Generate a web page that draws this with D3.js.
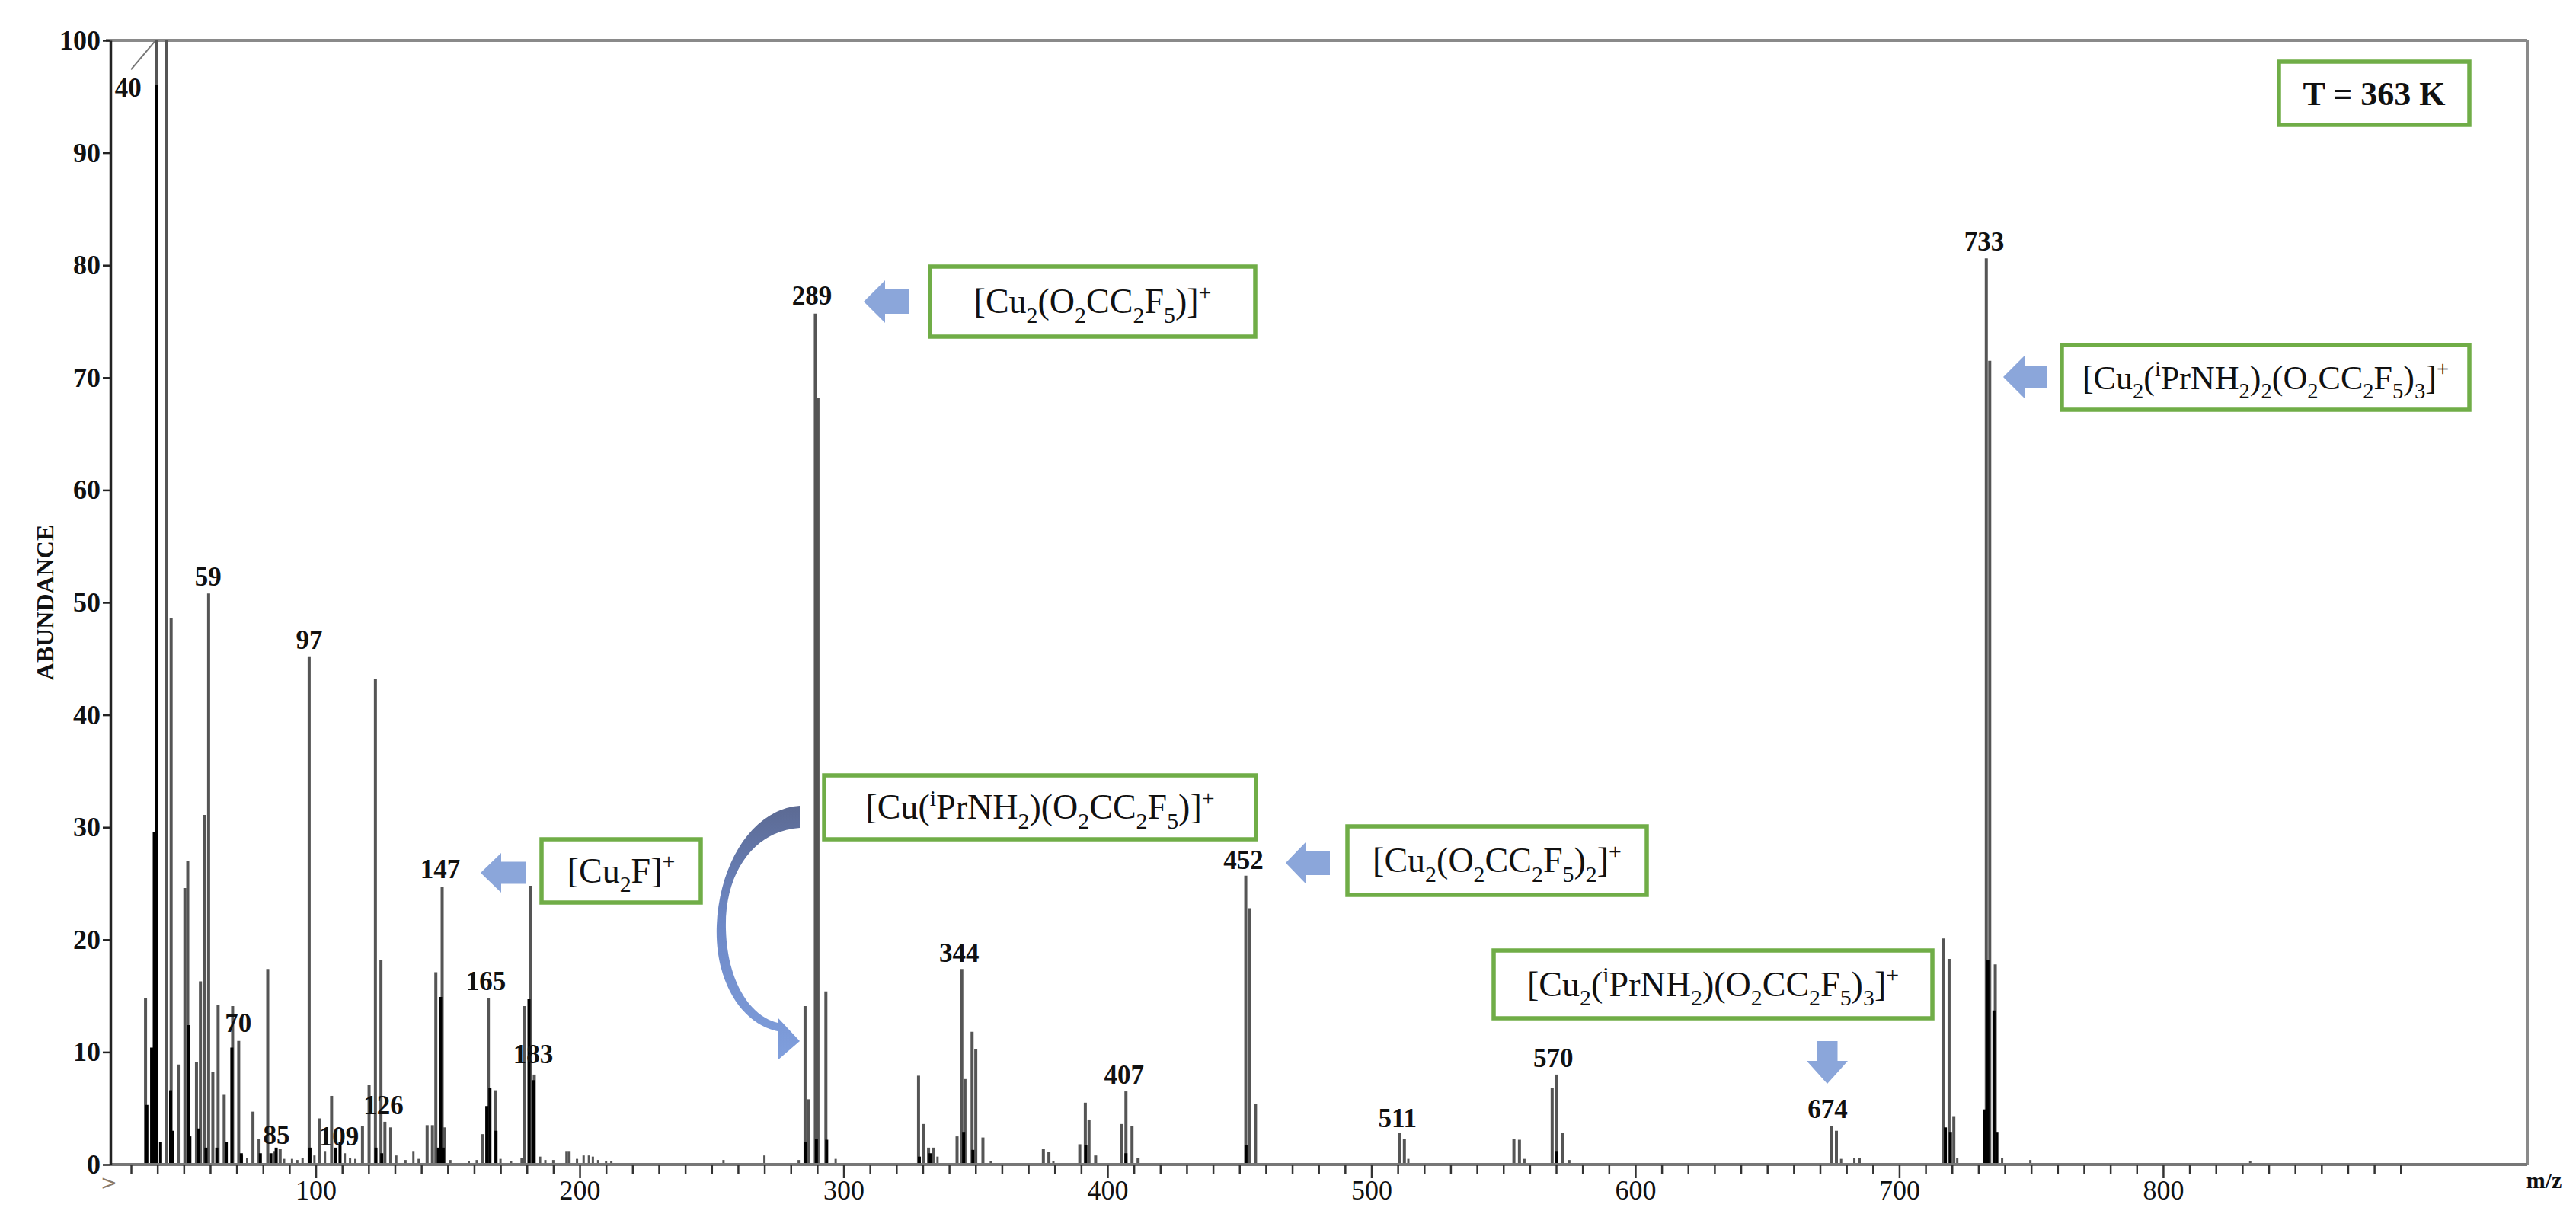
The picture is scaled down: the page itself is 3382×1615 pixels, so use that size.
<!DOCTYPE html>
<html><head><meta charset="utf-8">
<script src="https://cdn.jsdelivr.net/npm/d3@7"></script>
<style>body{margin:0;background:#fff} svg{display:block}</style>
</head><body>
<svg id="c" width="3382" height="1615"></svg>
<script>
// ---------------- DATA ----------------
// main peaks (m/z, abundance %) - grey lines
const peakMz = [35.5,39.6,43.4,45.2,47.9,50.4,51.5,54.8,56.3,57.9,59.4,61,63,65.3,68.5,70.8,76.2,78.5,81.8,84.5,86.5,97.5,101.5,106,117.7,120.2,122.6,124.7,126.2,128.4,142.2,144.2,145.5,147.9,148.9,163.2,165.4,168,179,181.5,182.8,196,285.4,286.8,289.3,290.3,293.3,328.4,330.2,332.2,334,343,344.8,346,348.7,350.1,352.8,375.7,377.8,389.5,391.6,393,395.5,405.4,407,409.3,411.6,452.4,453.9,456.1,510.7,512.5,554,556.1,568.5,570,572.5,674.2,676.2,716.9,718.9,720.7,733,734.3,736.4];
const peakAb = [14.8,100,100,48.6,8.9,24.6,27,9.1,16.3,31.1,50.8,8.2,14.2,6.2,14.1,11,4.7,2.3,17.4,1.2,1.4,45.2,4.1,6.1,3.4,7.1,43.2,18.2,3.8,3.3,3.5,3.5,17.1,24.7,3.3,2.7,14.8,6.6,14.1,24.8,8,1.2,14.1,5.8,75.7,68.2,15.4,7.9,3.6,1.5,1.5,2.5,17.4,7.6,11.8,10.3,2.4,1.4,1.1,1.8,5.5,4,0.8,3.6,6.5,3.4,0.6,25.7,22.8,5.4,2.8,2.3,2.3,2.2,6.8,8,2.8,3.4,3,20.1,18.3,4.3,80.6,71.5,17.8];
// darker (overlapping) peak cores
const coreMz = [36,37.8,38.8,39.6,41.2,45,45.7,51.7,52.3,55.5,58.4,62.5,66.1,68.2,71.8,79,83,85,97.8,107.4,109.2,122.8,125,146.5,147.3,148.3,164.8,166,168.3,180.8,182.4,285.7,289.7,293.6,328.7,332.8,345.5,349,391.8,407,452.5,570,717.5,719.4,732.2,733.6,735.9,737];
const coreAb = [5.3,10.4,29.6,96,2,6.6,3,12.4,2.5,3.2,1.5,1.5,2,10.4,1,1,1,1.5,1.5,1.5,2,1.5,1,1.5,14.9,1.5,5.2,6.8,3,14.7,7.5,2,2.3,2.2,0.7,1,2.9,1.3,1.7,1,1.7,1.2,3.3,2.9,4.9,18.2,13.7,2.9];
// small baseline peaks
const noiseMz = [72,74,88,91,93,95,99.5,103.5,111,113,115,130.5,134,137,139,151,158,161,170,174,178,185,187,190,195,199,201.5,203.5,205,207,210,212,254.5,270,283,297,335.6,355.8,379.5,514,558,575,678,683,685,722,739,749.7,833];
const noiseAb = [0.8,0.6,0.5,0.5,0.4,0.6,0.8,1.2,1,0.6,0.5,0.8,0.4,1.2,0.5,0.4,0.3,0.4,0.5,0.3,0.6,0.7,0.4,0.4,1.2,0.5,0.8,0.8,0.7,0.4,0.3,0.3,0.4,0.8,0.4,0.5,0.7,0.3,0.3,0.5,0.5,0.4,0.5,0.6,0.6,0.6,0.6,0.4,0.3];
// peak labels: text, m/z position, abundance position (baseline)
const labelText = ["40","59","97","70","85","109","126","147","165","183","289","344","407","452","511","570","674","733"];
const labelMz   = [28.9,59.2,97.5,70.6,85.1,108.8,125.7,147.2,164.5,182.4,288,343.8,406.3,451.5,509.9,568.9,672.9,732.2];
const labelAb   = [95,51.5,45.9,11.8,1.8,1.7,4.5,25.5,15.5,9,76.5,18,7.2,26.3,3.3,8.7,4.1,81.3];
// axes
const xTickValues = d3.range(30, 900, 10);
const yTickValues = d3.range(0, 101, 10);
const xDomain = [22.2, 940];
const yDomain = [0, 100];
// annotation formulas ( _x = subscript, ^x = superscript )
const boxTexts = ["T = 363 K","[Cu_2(O_2CC_2F_5)]^+","[Cu_2F]^+","[Cu(^iPrNH_2)(O_2CC_2F_5)]^+","[Cu_2(O_2CC_2F_5)_2]^+","[Cu_2(^iPrNH_2)(O_2CC_2F_5)_3]^+","[Cu_2(^iPrNH_2)_2(O_2CC_2F_5)_3]^+"];

// ---------------- LAYOUT ----------------
const svg = d3.select("#c");
const L = 145, R = 3325, T = 53, B = 1529;
const x = d3.scaleLinear().domain(xDomain).range([L, R]);
const y = d3.scaleLinear().domain(yDomain).range([B, T]);
const serif = "'Liberation Serif','Times New Roman',serif";
const frameR = 3318;

// frame (top & right)
svg.append("line").attr("x1", L-6).attr("x2", frameR).attr("y1", T).attr("y2", T)
  .attr("stroke", "#8a8a8a").attr("stroke-width", 4);
svg.append("line").attr("x1", frameR).attr("x2", frameR).attr("y1", T).attr("y2", B)
  .attr("stroke", "#8a8a8a").attr("stroke-width", 4);

// peaks
const gP = svg.append("g");
gP.selectAll("line.n").data(noiseMz.map((m,i)=>[m,noiseAb[i]])).join("line")
  .attr("x1", d=>x(d[0])).attr("x2", d=>x(d[0])).attr("y1", y(0)).attr("y2", d=>y(d[1]))
  .attr("stroke", "#555").attr("stroke-width", 3);
gP.selectAll("line.p").data(peakMz.map((m,i)=>[m,peakAb[i]])).join("line")
  .attr("x1", d=>x(d[0])).attr("x2", d=>x(d[0])).attr("y1", y(0)).attr("y2", d=>y(d[1]))
  .attr("stroke", "#555").attr("stroke-width", 4);
const gC = svg.append("g");
gC.selectAll("line").data(coreMz.map((m,i)=>[m,coreAb[i]])).join("line")
  .attr("x1", d=>x(d[0])).attr("x2", d=>x(d[0])).attr("y1", y(0)).attr("y2", d=>y(d[1]))
  .attr("stroke", "#000").attr("stroke-width", 4);

// x axis
const gx = svg.append("g").attr("transform", `translate(0,${B})`)
  .call(d3.axisBottom(x).tickValues(xTickValues).tickSize(12).tickSizeOuter(0)
    .tickFormat(d => d % 100 === 0 ? d : ""));
gx.select(".domain").attr("d", `M${L},0H${frameR}`).attr("stroke", "#777").attr("stroke-width", 4);
gx.selectAll(".tick line").attr("stroke", "#333").attr("stroke-width", 2.5)
  .attr("y2", d => d % 100 === 0 ? 18 : 12);
gx.selectAll(".tick text").attr("font-family", serif).attr("font-size", 36)
  .attr("fill", "#111").attr("dy", "0.71em").attr("y", 20);

// y axis
const gy = svg.append("g").attr("transform", `translate(${L},0)`)
  .call(d3.axisLeft(y).tickValues(yTickValues).tickSize(10).tickSizeOuter(0));
gy.select(".domain").attr("stroke", "#222").attr("stroke-width", 3.5);
gy.selectAll(".tick line").attr("stroke", "#222").attr("stroke-width", 2.5);
gy.selectAll(".tick text").attr("font-family", serif).attr("font-size", 36)
  .attr("font-weight", "bold").attr("fill", "#111").attr("x", -13);

svg.append("text").attr("transform", `translate(70,791) rotate(-90)`)
  .attr("text-anchor", "middle").attr("font-family", serif).attr("font-weight", "bold")
  .attr("font-size", 32).attr("fill", "#111").text("ABUNDANCE");
svg.append("text").attr("x", 3340).attr("y", 1560).attr("text-anchor", "middle")
  .attr("font-family", serif).attr("font-weight", "bold").attr("font-size", 30)
  .attr("fill", "#111").text("m/z");
svg.append("text").attr("x", 143).attr("y", 1562).attr("text-anchor", "middle")
  .attr("font-family", "DejaVu Sans").attr("font-size", 26).attr("fill", "#8a7a6a").text(">");

// peak labels
svg.append("g").selectAll("text").data(labelText.map((t,i)=>[t,labelMz[i],labelAb[i]])).join("text")
  .attr("x", d=>x(d[1])).attr("y", d=>y(d[2])).attr("text-anchor", "middle")
  .attr("font-family", serif).attr("font-weight", "bold").attr("font-size", 35)
  .attr("fill", "#111").text(d=>d[0]);
// leader for "40"
svg.append("line").attr("x1", x(30)).attr("y1", y(97.4)).attr("x2", x(39)).attr("y2", y(99.9))
  .attr("stroke", "#777").attr("stroke-width", 2);

// ---------------- ANNOTATIONS ----------------
const defs = svg.append("defs");
const grad = defs.append("linearGradient").attr("id","cg").attr("x1",0).attr("y1",0).attr("x2",0).attr("y2",1);
grad.append("stop").attr("offset","0").attr("stop-color","#5c6a93");
grad.append("stop").attr("offset","0.45").attr("stop-color","#6d88c6");
grad.append("stop").attr("offset","1").attr("stop-color","#809fdd");

function formula(g, str, cx, cy, fs, weight) {
  const t = g.append("text").attr("x", cx).attr("y", cy).attr("text-anchor", "middle")
    .attr("font-family", serif).attr("font-size", fs).attr("font-weight", weight).attr("fill", "#111");
  let off = 0;
  for (let i = 0; i < str.length; i++) {
    let ch = str[i], kind = 0;
    if ((ch === "_" || ch === "^") && i + 1 < str.length) { kind = ch === "_" ? 1 : -1; ch = str[++i]; }
    const target = kind === 1 ? 0.28*fs : kind === -1 ? -0.38*fs : 0;
    t.append("tspan").attr("dy", target - off).attr("font-size", kind ? fs*0.65 : fs).text(ch);
    off = target;
  }
}
// boxes: [x1,y1,x2,y2]
const boxes = [[2992,81,3242,164],[1221,350,1648,442],[711,1102,920,1185],[1082,1018,1649,1102],[1769,1085,2162,1175],[1961,1248,2537,1337],[2707,453,3242,538]];
const boxFont = [44,46,46,46,46,46,44];
const gA = svg.append("g");
boxes.forEach((b,i) => {
  gA.append("rect").attr("x", b[0]).attr("y", b[1]).attr("width", b[2]-b[0]).attr("height", b[3]-b[1])
    .attr("fill", "#fff").attr("stroke", "#70ad47").attr("stroke-width", 5.5);
  formula(gA, boxTexts[i], (b[0]+b[2])/2, (b[1]+b[3])/2 + 15, boxFont[i], i === 0 ? "bold" : "normal");
});
function leftArrow(tx, cy, len, hl, hh, sh) {
  return `M${tx},${cy} L${tx+hl},${cy-hh} L${tx+hl},${cy-sh} L${tx+len},${cy-sh} L${tx+len},${cy+sh} L${tx+hl},${cy+sh} L${tx+hl},${cy+hh} Z`;
}
[[631,1146,59,27,26,14.5],[1134,396,60,28,28,16],[1688,1133,58,27,28,16],[2630,495,57,28,28,15]].forEach(a => {
  gA.append("path").attr("d", leftArrow(...a)).attr("fill", "#8ba6da");
});
// down arrow (674)
gA.append("path").attr("d", `M2399,1423 L2372,1393 L2385.5,1393 L2385.5,1367 L2412.5,1367 L2412.5,1393 L2426,1393 Z`).attr("fill", "#8ba6da");
// curved arrow
gA.append("path").attr("d",
  "M1050,1058 C990,1062 945,1130 941,1215 C938,1290 975,1345 1021,1354 L1021,1392 L1050,1367 L1021,1336 L1021,1343 C985,1334 955,1290 953,1220 C951,1140 995,1090 1050,1087 Z")
  .attr("fill", "url(#cg)");
</script>
</body></html>
